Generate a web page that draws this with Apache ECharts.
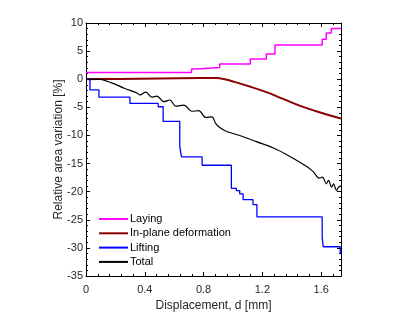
<!DOCTYPE html>
<html><head><meta charset="utf-8">
<script src="https://cdn.jsdelivr.net/npm/echarts@6/dist/echarts.min.js"></script>
<style>html,body{margin:0;padding:0;background:#fff}#c{width:415px;height:312px}</style>
</head><body><div id="c"></div>
<script>
var seriesNames = ['Laying', 'In-plane deformation', 'Lifting', 'Total'];
var xTicks = [0, 0.4, 0.8, 1.2, 1.6];
var yTicks = [-35, -30, -25, -20, -15, -10, -5, 0, 5, 10];
// step change points [x, new value]
var laying = [[0, 1.2], [0.718, 1.8], [0.752, 2.1], [0.91, 2.7], [1.118, 3.6], [1.227, 4.5], [1.286, 6.1], [1.607, 7.1], [1.635, 8.2], [1.669, 9.0], [1.735, 9.0]];
var inplane = [[0, 0.0], [0.12, 0.03], [0.23, 0.05], [0.5, 0.15], [0.774, 0.2], [0.888, 0.2], [0.95, -0.05], [1.0, -0.4], [1.114, -1.3], [1.227, -2.3], [1.34, -3.5], [1.453, -4.7], [1.567, -5.7], [1.679, -6.6], [1.735, -7.0]];
var lifting = [[0, 0], [0.027, -1.9], [0.088, -3.2], [0.299, -4.3], [0.491, -4.9], [0.525, -7.5], [0.638, -12.0], [0.65, -13.8], [0.79, -15.3], [0.989, -19.4], [1.023, -19.8], [1.046, -20.4], [1.069, -21.4], [1.136, -22.3], [1.163, -24.5], [1.607, -28.1], [1.614, -29.8], [1.73, -31.0], [1.735, -31.0]];
var total = [[0, 0], [0.08, 0], [0.17, -0.6], [0.26, -1.6], [0.35, -2.5], [0.367, -2.8], [0.407, -2.3], [0.448, -3.2], [0.482, -3.0], [0.53, -4.0], [0.57, -3.7], [0.611, -4.8], [0.666, -4.6], [0.72, -5.7], [0.767, -5.6], [0.815, -6.8], [0.856, -6.7], [0.883, -7.9], [0.91, -8.6], [0.956, -9.3], [1.046, -10.0], [1.159, -11.1], [1.272, -12.2], [1.385, -13.7], [1.499, -15.5], [1.544, -16.4], [1.589, -17.6], [1.609, -17.4], [1.635, -18.6], [1.65, -18.0], [1.671, -19.2], [1.684, -18.6], [1.705, -19.8], [1.718, -19.2], [1.735, -19.0]];

var colors = ['#ff00ff', '#8b0000', '#0000ff', '#000000'];
var FONT = 'Liberation Sans';
var xMin = xTicks[0], xMax = 1.735, xInt = xTicks[1] - xTicks[0];
var yMin = yTicks[0], yMax = yTicks[yTicks.length - 1], yInt = yTicks[1] - yTicks[0];

function axisCommon(extra) {
  var o = {
    type: 'value',
    axisLine: {show: true, onZero: false, lineStyle: {color: '#000', width: 1}},
    axisTick: {show: true, inside: true, length: 4, lineStyle: {color: '#000'}},
    minorTick: {show: true, splitNumber: 5, length: 2, lineStyle: {color: '#000'}},
    splitLine: {show: false},
    axisLabel: {fontFamily: FONT, fontSize: 11, color: '#262626'}
  };
  for (var k in extra) o[k] = extra[k];
  return o;
}
var chart = echarts.init(document.getElementById('c'), null, {renderer: 'canvas'});
chart.setOption({
  animation: false,
  backgroundColor: '#fff',
  grid: {left: 86, right: 74, top: 23, bottom: 36, containLabel: false, outerBoundsMode: 'none'},
  legend: {
    orient: 'vertical', left: 99, top: 212, padding: 0, itemGap: 0.3,
    itemWidth: 29, itemHeight: 2, icon: 'rect',
    textStyle: {fontFamily: FONT, fontSize: 11, color: '#000', lineHeight: 14, padding: [0, 0, 0, -3]},
    data: seriesNames
  },
  xAxis: [
    axisCommon({min: xMin, max: xMax, interval: xInt, position: 'bottom',
      name: 'Displacement, d [mm]', nameLocation: 'middle', nameGap: 24, nameMoveOverlap: false,
      nameTextStyle: {fontFamily: FONT, fontSize: 12, color: '#262626'},
      axisLabel: {fontFamily: FONT, fontSize: 11, color: '#262626', margin: 8, showMaxLabel: false,
        formatter: function (v) { return xTicks.indexOf(Math.round(v * 10) / 10) >= 0 ? String(Math.round(v * 10) / 10) : ''; }}}),
    axisCommon({min: xMin, max: xMax, interval: xInt, position: 'top', axisLabel: {show: false}})
  ],
  yAxis: [
    axisCommon({min: yMin, max: yMax, interval: yInt, position: 'left',
      name: 'Relative area variation [%]', nameLocation: 'middle', nameGap: 21, nameMoveOverlap: false,
      nameTextStyle: {fontFamily: FONT, fontSize: 12, color: '#262626'},
      axisLabel: {fontFamily: FONT, fontSize: 11, color: '#262626', margin: 3}}),
    axisCommon({min: yMin, max: yMax, interval: yInt, position: 'right', axisLabel: {show: false}})
  ],
  series: [
    {name: seriesNames[0], type: 'line', data: laying, step: 'end', showSymbol: false, lineStyle: {color: colors[0], width: 1.5}, itemStyle: {color: colors[0]}},
    {name: seriesNames[1], type: 'line', data: inplane, smooth: 0.4, showSymbol: false, lineStyle: {color: colors[1], width: 2}, itemStyle: {color: colors[1]}},
    {name: seriesNames[2], type: 'line', data: lifting, step: 'end', showSymbol: false, lineStyle: {color: colors[2], width: 1.3}, itemStyle: {color: colors[2]}},
    {name: seriesNames[3], type: 'line', data: total, smooth: 0.35, showSymbol: false, lineStyle: {color: colors[3], width: 1.2}, itemStyle: {color: colors[3]}}
  ]
});
</script></body></html>
